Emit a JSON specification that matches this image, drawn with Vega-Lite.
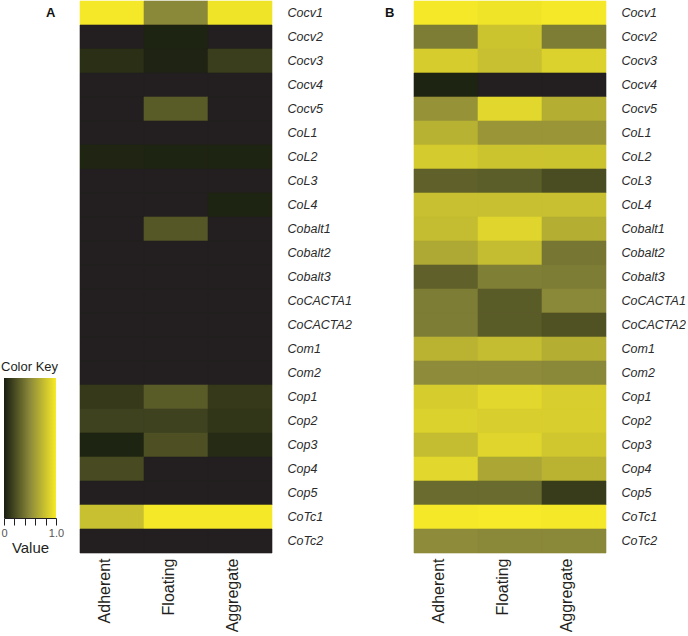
{
  "$schema": "https://vega.github.io/schema/vega-lite/v6.json",
  "padding": {"left": 0, "top": 0, "right": 0, "bottom": 0},
  "background": "white",
  "config": {
    "view": {"stroke": null},
    "font": "Liberation Sans",
    "axis": {"grid": false}
  },
  "data": {
    "values": [
      {"panel": "A", "gene": "Cocv1", "condition": "Adherent", "value": 0.99},
      {"panel": "A", "gene": "Cocv1", "condition": "Floating", "value": 0.49},
      {"panel": "A", "gene": "Cocv1", "condition": "Aggregate", "value": 0.967},
      {"panel": "A", "gene": "Cocv2", "condition": "Adherent", "value": 0},
      {"panel": "A", "gene": "Cocv2", "condition": "Floating", "value": 0.03},
      {"panel": "A", "gene": "Cocv2", "condition": "Aggregate", "value": 0},
      {"panel": "A", "gene": "Cocv3", "condition": "Adherent", "value": 0.081},
      {"panel": "A", "gene": "Cocv3", "condition": "Floating", "value": 0.025},
      {"panel": "A", "gene": "Cocv3", "condition": "Aggregate", "value": 0.15},
      {"panel": "A", "gene": "Cocv4", "condition": "Adherent", "value": 0},
      {"panel": "A", "gene": "Cocv4", "condition": "Floating", "value": 0},
      {"panel": "A", "gene": "Cocv4", "condition": "Aggregate", "value": 0},
      {"panel": "A", "gene": "Cocv5", "condition": "Adherent", "value": 0},
      {"panel": "A", "gene": "Cocv5", "condition": "Floating", "value": 0.286},
      {"panel": "A", "gene": "Cocv5", "condition": "Aggregate", "value": 0},
      {"panel": "A", "gene": "CoL1", "condition": "Adherent", "value": 0},
      {"panel": "A", "gene": "CoL1", "condition": "Floating", "value": 0},
      {"panel": "A", "gene": "CoL1", "condition": "Aggregate", "value": 0},
      {"panel": "A", "gene": "CoL2", "condition": "Adherent", "value": 0.035},
      {"panel": "A", "gene": "CoL2", "condition": "Floating", "value": 0.03},
      {"panel": "A", "gene": "CoL2", "condition": "Aggregate", "value": 0.03},
      {"panel": "A", "gene": "CoL3", "condition": "Adherent", "value": 0},
      {"panel": "A", "gene": "CoL3", "condition": "Floating", "value": 0},
      {"panel": "A", "gene": "CoL3", "condition": "Aggregate", "value": 0},
      {"panel": "A", "gene": "CoL4", "condition": "Adherent", "value": 0},
      {"panel": "A", "gene": "CoL4", "condition": "Floating", "value": 0},
      {"panel": "A", "gene": "CoL4", "condition": "Aggregate", "value": 0.03},
      {"panel": "A", "gene": "Cobalt1", "condition": "Adherent", "value": 0},
      {"panel": "A", "gene": "Cobalt1", "condition": "Floating", "value": 0.265},
      {"panel": "A", "gene": "Cobalt1", "condition": "Aggregate", "value": 0},
      {"panel": "A", "gene": "Cobalt2", "condition": "Adherent", "value": 0},
      {"panel": "A", "gene": "Cobalt2", "condition": "Floating", "value": 0},
      {"panel": "A", "gene": "Cobalt2", "condition": "Aggregate", "value": 0},
      {"panel": "A", "gene": "Cobalt3", "condition": "Adherent", "value": 0},
      {"panel": "A", "gene": "Cobalt3", "condition": "Floating", "value": 0},
      {"panel": "A", "gene": "Cobalt3", "condition": "Aggregate", "value": 0},
      {"panel": "A", "gene": "CoCACTA1", "condition": "Adherent", "value": 0},
      {"panel": "A", "gene": "CoCACTA1", "condition": "Floating", "value": 0},
      {"panel": "A", "gene": "CoCACTA1", "condition": "Aggregate", "value": 0},
      {"panel": "A", "gene": "CoCACTA2", "condition": "Adherent", "value": 0},
      {"panel": "A", "gene": "CoCACTA2", "condition": "Floating", "value": 0},
      {"panel": "A", "gene": "CoCACTA2", "condition": "Aggregate", "value": 0},
      {"panel": "A", "gene": "Com1", "condition": "Adherent", "value": 0},
      {"panel": "A", "gene": "Com1", "condition": "Floating", "value": 0},
      {"panel": "A", "gene": "Com1", "condition": "Aggregate", "value": 0},
      {"panel": "A", "gene": "Com2", "condition": "Adherent", "value": 0},
      {"panel": "A", "gene": "Com2", "condition": "Floating", "value": 0},
      {"panel": "A", "gene": "Com2", "condition": "Aggregate", "value": 0},
      {"panel": "A", "gene": "Cop1", "condition": "Adherent", "value": 0.132},
      {"panel": "A", "gene": "Cop1", "condition": "Floating", "value": 0.286},
      {"panel": "A", "gene": "Cop1", "condition": "Aggregate", "value": 0.132},
      {"panel": "A", "gene": "Cop2", "condition": "Adherent", "value": 0.167},
      {"panel": "A", "gene": "Cop2", "condition": "Floating", "value": 0.167},
      {"panel": "A", "gene": "Cop2", "condition": "Aggregate", "value": 0.115},
      {"panel": "A", "gene": "Cop3", "condition": "Adherent", "value": 0.03},
      {"panel": "A", "gene": "Cop3", "condition": "Floating", "value": 0.235},
      {"panel": "A", "gene": "Cop3", "condition": "Aggregate", "value": 0.064},
      {"panel": "A", "gene": "Cop4", "condition": "Adherent", "value": 0.21},
      {"panel": "A", "gene": "Cop4", "condition": "Floating", "value": 0},
      {"panel": "A", "gene": "Cop4", "condition": "Aggregate", "value": 0},
      {"panel": "A", "gene": "Cop5", "condition": "Adherent", "value": 0},
      {"panel": "A", "gene": "Cop5", "condition": "Floating", "value": 0},
      {"panel": "A", "gene": "Cop5", "condition": "Aggregate", "value": 0},
      {"panel": "A", "gene": "CoTc1", "condition": "Adherent", "value": 0.78},
      {"panel": "A", "gene": "CoTc1", "condition": "Floating", "value": 0.99},
      {"panel": "A", "gene": "CoTc1", "condition": "Aggregate", "value": 0.99},
      {"panel": "A", "gene": "CoTc2", "condition": "Adherent", "value": 0},
      {"panel": "A", "gene": "CoTc2", "condition": "Floating", "value": 0},
      {"panel": "A", "gene": "CoTc2", "condition": "Aggregate", "value": 0},

      {"panel": "B", "gene": "Cocv1", "condition": "Adherent", "value": 0.99},
      {"panel": "B", "gene": "Cocv1", "condition": "Floating", "value": 0.967},
      {"panel": "B", "gene": "Cocv1", "condition": "Aggregate", "value": 0.99},
      {"panel": "B", "gene": "Cocv2", "condition": "Adherent", "value": 0.44},
      {"panel": "B", "gene": "Cocv2", "condition": "Floating", "value": 0.80},
      {"panel": "B", "gene": "Cocv2", "condition": "Aggregate", "value": 0.44},
      {"panel": "B", "gene": "Cocv3", "condition": "Adherent", "value": 0.846},
      {"panel": "B", "gene": "Cocv3", "condition": "Floating", "value": 0.78},
      {"panel": "B", "gene": "Cocv3", "condition": "Aggregate", "value": 0.874},
      {"panel": "B", "gene": "Cocv4", "condition": "Adherent", "value": 0.03},
      {"panel": "B", "gene": "Cocv4", "condition": "Floating", "value": 0},
      {"panel": "B", "gene": "Cocv4", "condition": "Aggregate", "value": 0},
      {"panel": "B", "gene": "Cocv5", "condition": "Adherent", "value": 0.542},
      {"panel": "B", "gene": "Cocv5", "condition": "Floating", "value": 0.90},
      {"panel": "B", "gene": "Cocv5", "condition": "Aggregate", "value": 0.687},
      {"panel": "B", "gene": "CoL1", "condition": "Adherent", "value": 0.706},
      {"panel": "B", "gene": "CoL1", "condition": "Floating", "value": 0.565},
      {"panel": "B", "gene": "CoL1", "condition": "Aggregate", "value": 0.565},
      {"panel": "B", "gene": "CoL2", "condition": "Adherent", "value": 0.836},
      {"panel": "B", "gene": "CoL2", "condition": "Floating", "value": 0.80},
      {"panel": "B", "gene": "CoL2", "condition": "Aggregate", "value": 0.80},
      {"panel": "B", "gene": "CoL3", "condition": "Adherent", "value": 0.308},
      {"panel": "B", "gene": "CoL3", "condition": "Floating", "value": 0.295},
      {"panel": "B", "gene": "CoL3", "condition": "Aggregate", "value": 0.218},
      {"panel": "B", "gene": "CoL4", "condition": "Adherent", "value": 0.78},
      {"panel": "B", "gene": "CoL4", "condition": "Floating", "value": 0.78},
      {"panel": "B", "gene": "CoL4", "condition": "Aggregate", "value": 0.78},
      {"panel": "B", "gene": "Cobalt1", "condition": "Adherent", "value": 0.76},
      {"panel": "B", "gene": "Cobalt1", "condition": "Floating", "value": 0.89},
      {"panel": "B", "gene": "Cobalt1", "condition": "Aggregate", "value": 0.687},
      {"panel": "B", "gene": "Cobalt2", "condition": "Adherent", "value": 0.66},
      {"panel": "B", "gene": "Cobalt2", "condition": "Floating", "value": 0.76},
      {"panel": "B", "gene": "Cobalt2", "condition": "Aggregate", "value": 0.41},
      {"panel": "B", "gene": "Cobalt3", "condition": "Adherent", "value": 0.308},
      {"panel": "B", "gene": "Cobalt3", "condition": "Floating", "value": 0.449},
      {"panel": "B", "gene": "Cobalt3", "condition": "Aggregate", "value": 0.44},
      {"panel": "B", "gene": "CoCACTA1", "condition": "Adherent", "value": 0.44},
      {"panel": "B", "gene": "CoCACTA1", "condition": "Floating", "value": 0.286},
      {"panel": "B", "gene": "CoCACTA1", "condition": "Aggregate", "value": 0.49},
      {"panel": "B", "gene": "CoCACTA2", "condition": "Adherent", "value": 0.44},
      {"panel": "B", "gene": "CoCACTA2", "condition": "Floating", "value": 0.286},
      {"panel": "B", "gene": "CoCACTA2", "condition": "Aggregate", "value": 0.244},
      {"panel": "B", "gene": "Com1", "condition": "Adherent", "value": 0.715},
      {"panel": "B", "gene": "Com1", "condition": "Floating", "value": 0.76},
      {"panel": "B", "gene": "Com1", "condition": "Aggregate", "value": 0.687},
      {"panel": "B", "gene": "Com2", "condition": "Adherent", "value": 0.51},
      {"panel": "B", "gene": "Com2", "condition": "Floating", "value": 0.51},
      {"panel": "B", "gene": "Com2", "condition": "Aggregate", "value": 0.49},
      {"panel": "B", "gene": "Cop1", "condition": "Adherent", "value": 0.846},
      {"panel": "B", "gene": "Cop1", "condition": "Floating", "value": 0.90},
      {"panel": "B", "gene": "Cop1", "condition": "Aggregate", "value": 0.855},
      {"panel": "B", "gene": "Cop2", "condition": "Adherent", "value": 0.874},
      {"panel": "B", "gene": "Cop2", "condition": "Floating", "value": 0.855},
      {"panel": "B", "gene": "Cop2", "condition": "Aggregate", "value": 0.855},
      {"panel": "B", "gene": "Cop3", "condition": "Adherent", "value": 0.76},
      {"panel": "B", "gene": "Cop3", "condition": "Floating", "value": 0.89},
      {"panel": "B", "gene": "Cop3", "condition": "Aggregate", "value": 0.818},
      {"panel": "B", "gene": "Cop4", "condition": "Adherent", "value": 0.90},
      {"panel": "B", "gene": "Cop4", "condition": "Floating", "value": 0.65},
      {"panel": "B", "gene": "Cop4", "condition": "Aggregate", "value": 0.715},
      {"panel": "B", "gene": "Cop5", "condition": "Adherent", "value": 0.355},
      {"panel": "B", "gene": "Cop5", "condition": "Floating", "value": 0.355},
      {"panel": "B", "gene": "Cop5", "condition": "Aggregate", "value": 0.141},
      {"panel": "B", "gene": "CoTc1", "condition": "Adherent", "value": 0.99},
      {"panel": "B", "gene": "CoTc1", "condition": "Floating", "value": 1.0},
      {"panel": "B", "gene": "CoTc1", "condition": "Aggregate", "value": 0.99},
      {"panel": "B", "gene": "CoTc2", "condition": "Adherent", "value": 0.51},
      {"panel": "B", "gene": "CoTc2", "condition": "Floating", "value": 0.49},
      {"panel": "B", "gene": "CoTc2", "condition": "Aggregate", "value": 0.49}
    ]
  },
  "bounds": "full",
  "spacing": -19,
  "hconcat": [
    {
      "bounds": "flush",
      "spacing": 14,
      "vconcat": [
        {
          "width": 52,
          "height": 363,
          "data": {"values": []},
          "mark": {"type": "rect", "opacity": 0},
          "encoding": {}
        },
        {
          "width": 52,
          "height": 140,
          "data": {"values": [{"lo": 0, "hi": 1}]},
          "title": {"text": "Color Key", "fontSize": 13, "fontWeight": "normal", "anchor": "start", "frame": "group", "offset": 4, "dx": -3, "color": "#231f20"},
          "mark": {
            "type": "rect",
            "color": {
              "gradient": "linear", "x1": 0, "x2": 1, "y1": 0, "y2": 0,
              "stops": [
                {"offset": 0, "color": "#1d1d19"},
                {"offset": 0.03, "color": "#1e2412"},
                {"offset": 0.5, "color": "#8c8a3a"},
                {"offset": 1, "color": "#f7ea28"}
              ]
            }
          },
          "encoding": {
            "x": {
              "field": "lo", "type": "quantitative",
              "scale": {"domain": [0, 1], "nice": false, "zero": false},
              "axis": {
                "values": [0, 0.2, 0.4, 0.6, 0.8, 1],
                "labelExpr": "datum.value == 0 ? '0' : (datum.value == 1 ? '1.0' : '')",
                "labelFlush": false,
                "labelFontSize": 11,
                "labelColor": "#555555",
                "labelPadding": 2,
                "tickSize": 7,
                "tickColor": "#231f20",
                "domain": true,
                "domainColor": "#231f20",
                "title": "Value",
                "titleFontSize": 15,
                "titleFontWeight": "normal",
                "titleColor": "#231f20",
                "titlePadding": 2
              }
            },
            "x2": {"field": "hi"}
          }
        }
      ]
    },
    {
      "bounds": "flush",
      "spacing": 142,
      "hconcat": [
        {
          "width": 192,
          "height": 552,
          "transform": [{"filter": "datum.panel == 'A'"}],
          "title": {"text": "A", "fontSize": 13, "fontWeight": "bold", "orient": "left", "anchor": "end", "angle": 0, "align": "right", "baseline": "alphabetic", "frame": "group", "offset": 15, "dy": 16, "color": "#111111"},
          "mark": {"type": "rect", "strokeWidth": 0.6},
          "encoding": {
            "x": {
              "field": "condition", "type": "nominal",
              "sort": ["Adherent", "Floating", "Aggregate"],
              "scale": {"paddingInner": 0, "paddingOuter": 0},
              "axis": {"orient": "bottom", "title": null, "labelAngle": -90, "labelAlign": "right", "labelBaseline": "alphabetic", "labelOffset": -2, "labelPadding": 5, "labelFontSize": 16, "labelColor": "#231f20", "ticks": false, "domain": false}
            },
            "y": {
              "field": "gene", "type": "nominal",
              "sort": ["Cocv1", "Cocv2", "Cocv3", "Cocv4", "Cocv5", "CoL1", "CoL2", "CoL3", "CoL4", "Cobalt1", "Cobalt2", "Cobalt3", "CoCACTA1", "CoCACTA2", "Com1", "Com2", "Cop1", "Cop2", "Cop3", "Cop4", "Cop5", "CoTc1", "CoTc2"],
              "scale": {"paddingInner": 0, "paddingOuter": 0},
              "axis": {"orient": "right", "title": null, "labelFontStyle": "italic", "labelFontSize": 12.5, "labelColor": "#2b2b2b", "labelPadding": 15, "ticks": false, "domain": false}
            },
            "color": {
              "field": "value", "type": "quantitative",
              "scale": {"domain": [0, 0.03, 0.5, 1], "range": ["#231f20", "#1e2412", "#8c8a3a", "#f7ea28"], "interpolate": "rgb"},
              "legend": null
            },
            "stroke": {
              "field": "value", "type": "quantitative",
              "scale": {"domain": [0, 0.03, 0.5, 1], "range": ["#231f20", "#1e2412", "#8c8a3a", "#f7ea28"], "interpolate": "rgb"},
              "legend": null
            }
          }
        },
        {
          "width": 192,
          "height": 552,
          "transform": [{"filter": "datum.panel == 'B'"}],
          "title": {"text": "B", "fontSize": 13, "fontWeight": "bold", "orient": "left", "anchor": "end", "angle": 0, "align": "right", "baseline": "alphabetic", "frame": "group", "offset": 10, "dy": 16, "color": "#111111"},
          "mark": {"type": "rect", "strokeWidth": 0.6},
          "encoding": {
            "x": {
              "field": "condition", "type": "nominal",
              "sort": ["Adherent", "Floating", "Aggregate"],
              "scale": {"paddingInner": 0, "paddingOuter": 0},
              "axis": {"orient": "bottom", "title": null, "labelAngle": -90, "labelAlign": "right", "labelBaseline": "alphabetic", "labelOffset": -2, "labelPadding": 5, "labelFontSize": 16, "labelColor": "#231f20", "ticks": false, "domain": false}
            },
            "y": {
              "field": "gene", "type": "nominal",
              "sort": ["Cocv1", "Cocv2", "Cocv3", "Cocv4", "Cocv5", "CoL1", "CoL2", "CoL3", "CoL4", "Cobalt1", "Cobalt2", "Cobalt3", "CoCACTA1", "CoCACTA2", "Com1", "Com2", "Cop1", "Cop2", "Cop3", "Cop4", "Cop5", "CoTc1", "CoTc2"],
              "scale": {"paddingInner": 0, "paddingOuter": 0},
              "axis": {"orient": "right", "title": null, "labelFontStyle": "italic", "labelFontSize": 12.5, "labelColor": "#2b2b2b", "labelPadding": 15, "ticks": false, "domain": false}
            },
            "color": {
              "field": "value", "type": "quantitative",
              "scale": {"domain": [0, 0.03, 0.5, 1], "range": ["#231f20", "#1e2412", "#8c8a3a", "#f7ea28"], "interpolate": "rgb"},
              "legend": null
            },
            "stroke": {
              "field": "value", "type": "quantitative",
              "scale": {"domain": [0, 0.03, 0.5, 1], "range": ["#231f20", "#1e2412", "#8c8a3a", "#f7ea28"], "interpolate": "rgb"},
              "legend": null
            }
          }
        }
      ]
    }
  ]
}
